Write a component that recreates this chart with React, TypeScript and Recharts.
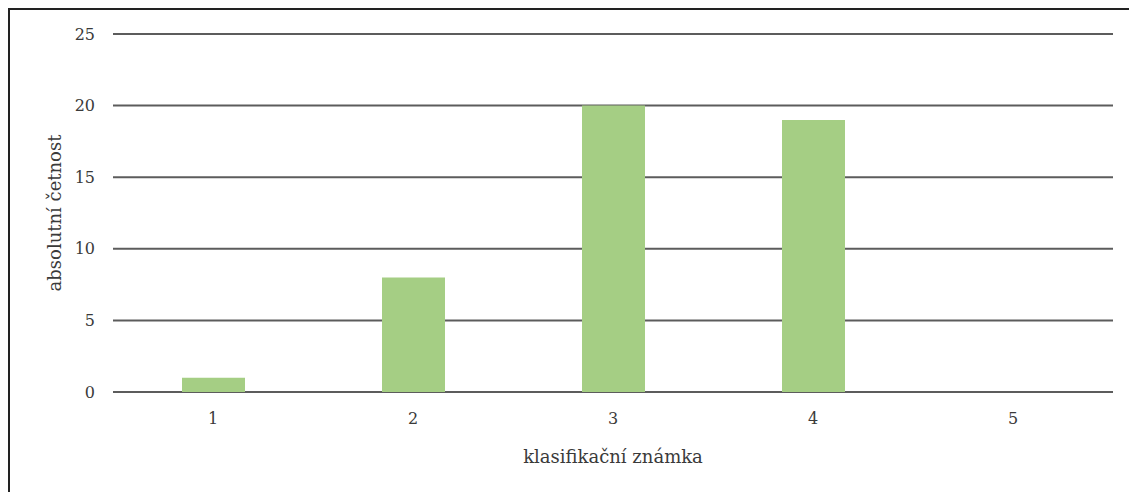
import { BarChart, Bar, XAxis, YAxis, CartesianGrid } from "recharts";

const grades = ["1", "2", "3", "4", "5"];
const counts = [1, 8, 20, 19, 0];
const yTicks = [0, 5, 10, 15, 20, 25];

const data = grades.map((g, i) => ({ name: g, count: counts[i] }));

const FONT = "'DejaVu Serif', serif";

function YTitle(props: any) {
  const vb = props.viewBox || {};
  const cx = 44;
  const cy = vb.y + vb.height / 2;
  return (
    <text
      x={cx}
      y={cy}
      transform={`rotate(-90, ${cx}, ${cy})`}
      textAnchor="middle"
      dominantBaseline="central"
      fontFamily={FONT}
      fontSize={18}
      fill="#3a3a3a"
    >
      absolutní četnost
    </text>
  );
}

export default function App() {
  return (
    <div
      style={{
        width: 1121,
        height: 482,
        borderLeft: "2px solid #222",
        borderTop: "2px solid #222",
        borderRight: "1px solid #e4e4e4",
        background: "#fff",
      }}
    >
      <BarChart
        width={1121}
        height={482}
        data={data}
        margin={{ top: 24, right: 18, bottom: 0, left: 0 }}
        barSize={63}
      >
        <CartesianGrid vertical={false} stroke="#5c5c5c" strokeWidth={2} />
        <XAxis
          dataKey="name"
          height={100}
          axisLine={false}
          tickLine={false}
          tickSize={0}
          tickMargin={21}
          tick={{ fontFamily: FONT, fontSize: 16, fill: "#3a3a3a" }}
          label={{
            value: "klasifikační známka",
            position: "insideBottom",
            offset: 29,
            fontFamily: FONT,
            fontSize: 18,
            fill: "#3a3a3a",
          }}
        />
        <YAxis
          width={103}
          domain={[0, 25]}
          ticks={yTicks}
          axisLine={false}
          tickLine={false}
          tickSize={0}
          tickMargin={18}
          tick={{ fontFamily: FONT, fontSize: 16, fill: "#3a3a3a" }}
          label={<YTitle />}
        />
        <Bar dataKey="count" fill="#a5ce84" isAnimationActive={false} />
      </BarChart>
    </div>
  );
}
